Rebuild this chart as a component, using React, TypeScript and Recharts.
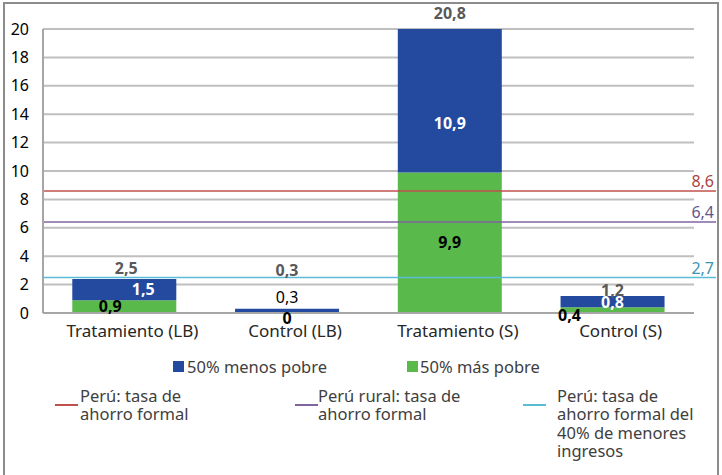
import { BarChart, Bar, XAxis, YAxis, CartesianGrid, ReferenceLine, LabelList, Legend } from 'recharts'

const categories = ['Tratamiento (LB)', 'Control (LB)', 'Tratamiento (S)', 'Control (S)']
const masPobre = [0.9, 0, 9.9, 0.4]
const menosPobre = [1.5, 0.3, 10.9, 0.8]
const totals = [2.5, 0.3, 20.8, 1.2]
const yTicks = [0, 2, 4, 6, 8, 10, 12, 14, 16, 18, 20]

const refValues = [8.6, 6.4, 2.5]
const refLabels = ['8,6', '6,4', '2,7']
const refNames = [
  ['Perú: tasa de', 'ahorro formal'],
  ['Perú rural: tasa de', 'ahorro formal'],
  ['Perú: tasa de', 'ahorro formal del', '40% de menores', 'ingresos'],
]

const BLUE = '#234a9f'
const GREEN = '#5ab94b'
const REF_COLORS = ['#c0504d', '#8064a2', '#5bbcd6']
const REF_TEXT = ['#a94442', '#64558f', '#3b96b5']
const FONT = '"Noto Sans", sans-serif'

// manual nudges for the data labels (dx, dy from the default spot)
const GREEN_NUDGE = [[-14, -1], [0, 5], [0, -1], [-43, 5]]
const BLUE_NUDGE = [[19, -1], [0, -14], [0, 22], [0, 0]]
const TOTAL_NUDGE = [[2, -11], [0, -39], [0, -16], [0, -6]]

const data = categories.map((name, i) => ({
  name,
  masPobre: masPobre[i],
  menosPobre: menosPobre[i],
  total: totals[i],
}))

const fmt = (v: number) => String(v).replace('.', ',')

const greenLabel = (p: any) => {
  const i = masPobre.indexOf(p.value)
  if (i < 0 || p.value === 0) return null
  const [dx, dy] = GREEN_NUDGE[i]
  return (
    <text x={p.x + p.width / 2 + dx} y={p.y + p.height / 2 + dy} textAnchor="middle" dominantBaseline="central"
      fontFamily={FONT} fontSize={16} fontWeight={700} fill="#000">{fmt(p.value)}</text>
  )
}

// zero-height green segments get no rect, so their label hangs off the blue one
const zeroGreenLabel = (p: any) => {
  if (p.value !== 0) return null
  const [dx, dy] = GREEN_NUDGE[masPobre.indexOf(0)]
  return (
    <text x={p.x + p.width / 2 + dx} y={p.y + p.height + dy} textAnchor="middle" dominantBaseline="central"
      fontFamily={FONT} fontSize={16} fontWeight={700} fill="#000">{fmt(p.value)}</text>
  )
}

const blueLabel = (p: any) => {
  const i = menosPobre.indexOf(p.value)
  if (i < 0) return null
  const [dx, dy] = BLUE_NUDGE[i]
  const thin = i === 1
  return (
    <text x={p.x + p.width / 2 + dx} y={p.y + p.height / 2 + dy} textAnchor="middle" dominantBaseline="central"
      fontFamily={FONT} fontSize={16} fontWeight={thin ? 400 : 700} fill={thin ? '#000' : '#fff'}>{fmt(p.value)}</text>
  )
}

const totalLabel = (p: any) => {
  const i = totals.indexOf(p.value)
  if (i < 0) return null
  const [dx, dy] = TOTAL_NUDGE[i]
  return (
    <text x={p.x + p.width / 2 + dx} y={p.y + dy} textAnchor="middle" dominantBaseline="central"
      fontFamily={FONT} fontSize={16} fontWeight={700} fill="#595959">{fmt(p.value)}</text>
  )
}

const refShape = (i: number) => (p: any) => {
  const x2 = p.x2 + 22
  return (
    <g>
      <line x1={p.x1} y1={p.y1} x2={x2} y2={p.y2} stroke={REF_COLORS[i]} strokeWidth={1.5} />
      <text x={x2 - 2} y={p.y1 - 10} textAnchor="end" dominantBaseline="central" fontFamily={FONT}
        fontSize={16} fill={REF_TEXT[i]}>{refLabels[i]}</text>
    </g>
  )
}

const legendContent = () => {
  const text = { position: 'absolute' as const, fontFamily: FONT, fontSize: 16.5, color: '#404040', lineHeight: '18.3px', whiteSpace: 'nowrap' as const }
  const lineLeft = [55, 295, 523]
  const textLeft = [80, 318, 557]
  return (
    <div style={{ position: 'relative', width: 722, height: 0 }}>
      <div style={{ position: 'absolute', left: 173, top: 361, width: 11, height: 11, background: BLUE }} />
      <div style={{ ...text, left: 187, top: 357, lineHeight: '20px' }}>50% menos pobre</div>
      <div style={{ position: 'absolute', left: 407, top: 361, width: 11, height: 11, background: GREEN }} />
      <div style={{ ...text, left: 420, top: 357, lineHeight: '20px' }}>50% más pobre</div>
      {refNames.map((lines, i) => (
        <div key={i}>
          <div style={{ position: 'absolute', left: lineLeft[i], top: 404, width: 23, height: 2, background: REF_COLORS[i] }} />
          <div style={{ ...text, left: textLeft[i], top: 387 }}>
            {lines.map((l) => <div key={l}>{l}</div>)}
          </div>
        </div>
      ))}
    </div>
  )
}

export default function App() {
  return (
    <div style={{ position: 'absolute', left: 0, top: 0, width: 722, height: 475, overflow: 'hidden', background: '#fff' }}>
      <div style={{ position: 'absolute', left: 3, top: 2, width: 712, height: 490, border: '2px solid #8c8c8c' }} />
      <BarChart width={722} height={475} data={data} margin={{ top: 29, right: 28, bottom: 132, left: 3 }}
        barCategoryGap="18%">
        <CartesianGrid vertical={false} stroke="#bfbfbf" strokeWidth={2} />
        <XAxis dataKey="name" height={30} tickLine={false} axisLine={{ stroke: '#a6a6a6', strokeWidth: 2 }}
          tick={{ fontFamily: FONT, fontSize: 17, fill: '#262626', dx: 8 }} tickMargin={6} interval={0} />
        <YAxis width={40} domain={[0, 20]} ticks={yTicks} allowDataOverflow tickLine={false}
          axisLine={{ stroke: '#a6a6a6', strokeWidth: 2 }} tickMargin={8}
          tick={{ fontFamily: FONT, fontSize: 16, fill: '#000' }} />
        <Legend layout="vertical" align="center" verticalAlign="middle" content={legendContent}
          wrapperStyle={{ top: 0, left: 0, width: 722, height: 0 }} />
        <Bar dataKey="masPobre" stackId="a" fill={GREEN} isAnimationActive={false}>
          <LabelList dataKey="masPobre" content={greenLabel} />
        </Bar>
        <Bar dataKey="menosPobre" stackId="a" fill={BLUE} isAnimationActive={false}>
          <LabelList dataKey="menosPobre" content={blueLabel} />
          <LabelList dataKey="masPobre" content={zeroGreenLabel} />
          <LabelList dataKey="total" content={totalLabel} />
        </Bar>
        {refValues.map((v, i) => (
          <ReferenceLine key={i} y={v} shape={refShape(i)} />
        ))}
      </BarChart>
    </div>
  )
}
